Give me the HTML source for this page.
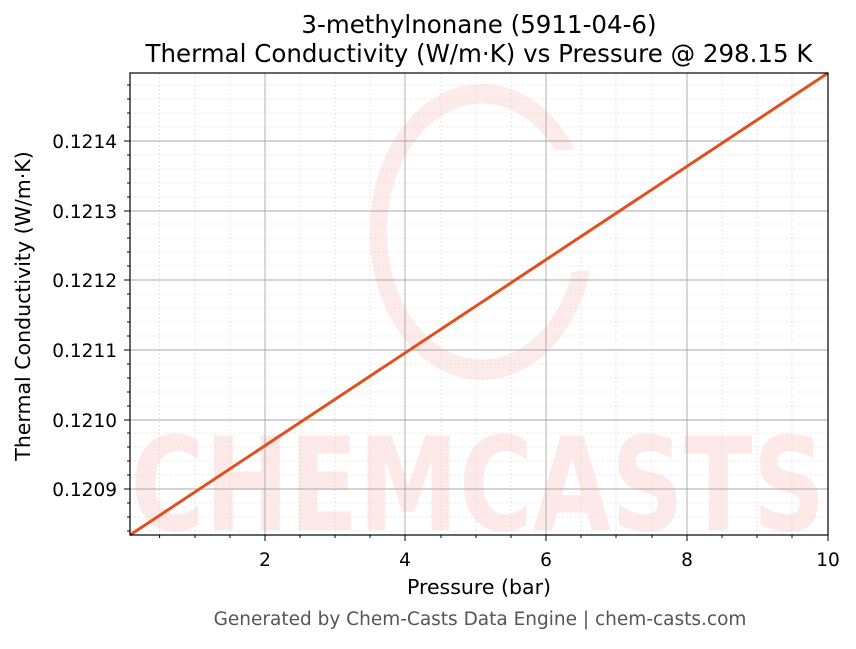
<!DOCTYPE html>
<html><head><meta charset="utf-8"><style>
body{margin:0;background:#fff;}
svg text{font-family:"DejaVu Sans","Liberation Sans",sans-serif;}
</style></head><body>
<svg width="856" height="644" xmlns="http://www.w3.org/2000/svg">
<rect width="856" height="644" fill="#fff"/>
<g opacity="0.1" fill="#f03c28">
<path d="M575,150 A112,148 0 1 0 590,270 L572,272 A95,128 0 1 1 555,150 Z"/>
<text x="478" y="530" font-size="130" font-weight="bold" text-anchor="middle" textLength="695" lengthAdjust="spacingAndGlyphs">CHEMCASTS</text>
</g>
<g stroke="#d8d8d8" stroke-width="0.6" stroke-dasharray="2,2">
<path d="M159.6,73V535M195,73V535M230,73V535M300,73V535M335,73V535M370,73V535M441,73V535M476,73V535M511,73V535M581,73V535M616,73V535M652,73V535M722,73V535M757,73V535M792,73V535"/>
<path d="M130,531H828M130,517H828M130,503H828M130,475H828M130,461H828M130,447H828M130,433H828M130,406H828M130,392H828M130,378H828M130,364H828M130,336H828M130,322H828M130,308H828M130,294H828M130,266H828M130,252H828M130,238H828M130,224H828M130,197H828M130,183H828M130,169H828M130,155H828M130,127H828M130,113H828M130,99H828M130,85H828"/>
</g>
<g stroke="#a8a8a8" stroke-width="0.9">
<path d="M265,73V535M405,73V535M546,73V535M687,73V535"/>
<path d="M130,489H828M130,420H828M130,350H828M130,280H828M130,211H828M130,141H828"/>
</g>
<line x1="130" y1="535" x2="828" y2="73" stroke="#e05020" stroke-width="3"/>
<rect x="130" y="73" width="698" height="462" fill="none" stroke="#000" stroke-width="1.2"/>
<g stroke="#000" stroke-width="1">
<path d="M265,535v6M405,535v6M546,535v6M687,535v6M828,535v6"/>
<path d="M159.6,535v3M195,535v3M230,535v3M300,535v3M335,535v3M370,535v3M441,535v3M476,535v3M511,535v3M581,535v3M616,535v3M652,535v3M722,535v3M757,535v3M792,535v3"/>
<path d="M130,489h-6M130,420h-6M130,350h-6M130,280h-6M130,211h-6M130,141h-6"/>
<path d="M130,531h-3M130,517h-3M130,503h-3M130,475h-3M130,461h-3M130,447h-3M130,433h-3M130,406h-3M130,392h-3M130,378h-3M130,364h-3M130,336h-3M130,322h-3M130,308h-3M130,294h-3M130,266h-3M130,252h-3M130,238h-3M130,224h-3M130,197h-3M130,183h-3M130,169h-3M130,155h-3M130,127h-3M130,113h-3M130,99h-3M130,85h-3"/>
</g>
<g font-size="18.5" fill="#000" text-anchor="middle">
<text x="265" y="566">2</text><text x="405" y="566">4</text><text x="546" y="566">6</text><text x="687" y="566">8</text><text x="828" y="566">10</text>
</g>
<g font-size="18.5" fill="#000" text-anchor="end">
<text x="117" y="496">0.1209</text><text x="117" y="427">0.1210</text><text x="117" y="357">0.1211</text><text x="117" y="287">0.1212</text><text x="117" y="218">0.1213</text><text x="117" y="148">0.1214</text>
</g>
<text x="479" y="594" font-size="20.5" text-anchor="middle">Pressure (bar)</text>
<text transform="translate(30,306) rotate(-90)" font-size="20.5" text-anchor="middle">Thermal Conductivity (W/m·K)</text>
<text x="479" y="33" font-size="24.5" text-anchor="middle">3-methylnonane (5911-04-6)</text>
<text x="479" y="62" font-size="24.5" text-anchor="middle">Thermal Conductivity (W/m·K) vs Pressure @ 298.15 K</text>
<text x="480" y="625" font-size="18.5" fill="#555" text-anchor="middle">Generated by Chem-Casts Data Engine | chem-casts.com</text>
</svg>
</body></html>
